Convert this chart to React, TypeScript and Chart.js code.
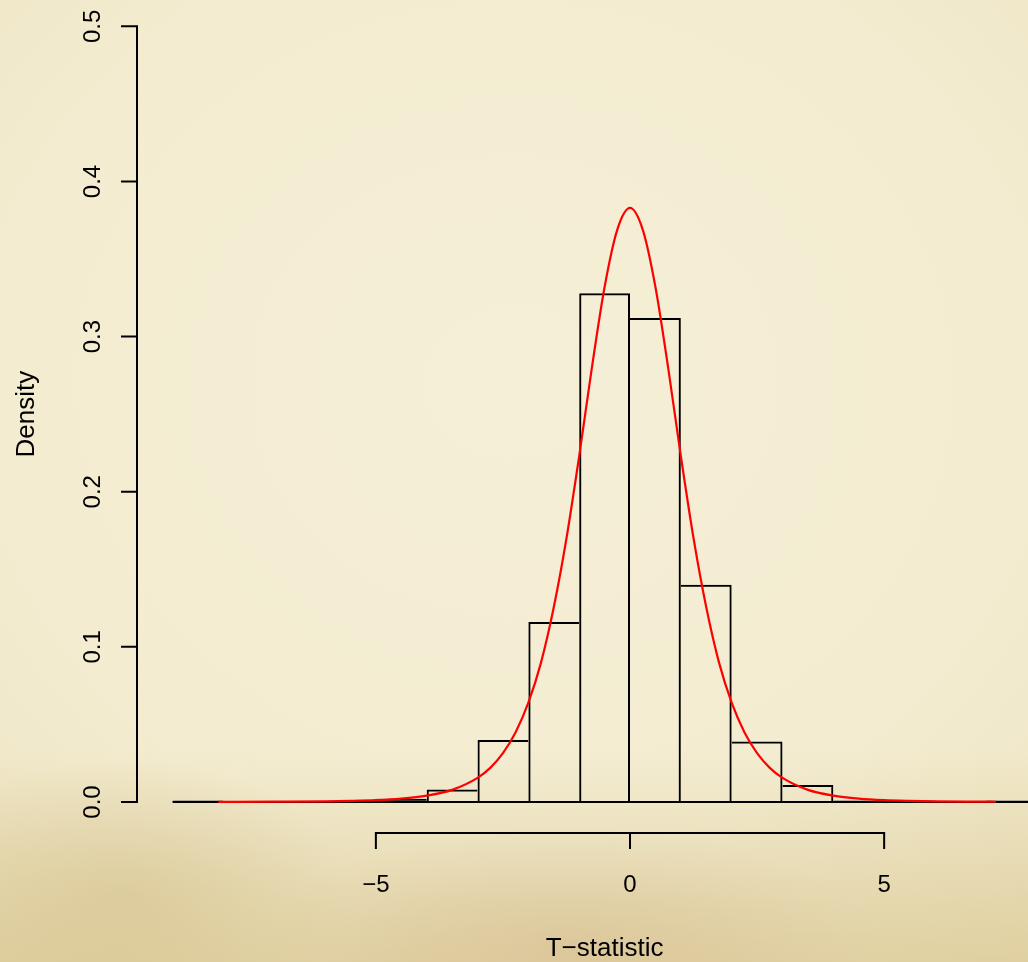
import { useEffect, useRef } from "react";
import { Chart, registerables } from "chart.js";

Chart.register(...registerables);

// Histogram bins (unit width) and their densities
const binStarts = [-9, -8, -7, -6, -5, -4, -3, -2, -1, 0, 1, 2, 3, 4, 5, 6, 7];
const binDensity = [
  0.001, 0, 0, 0, 0.002, 0.008, 0.04, 0.116, 0.328, 0.312, 0.14, 0.039, 0.011,
  0.001, 0.001, 0, 0.001,
];
const binWidth = 1;

// Fitted density curve
const curveX = [
  -8.1, -7, -6, -5.5, -5, -4.5, -4, -3.5, -3, -2.75, -2.5, -2.25, -2, -1.75, -1.5,
  -1.25, -1, -0.75, -0.5, -0.25, 0, 0.25, 0.5, 0.75, 1, 1.25, 1.5, 1.75, 2, 2.25,
  2.5, 2.75, 3, 3.5, 4, 4.5, 5, 5.5, 6, 7, 7.2,
];
const curveY = [
  0.0001, 0.0002, 0.0004, 0.0007, 0.0012, 0.0022, 0.0041, 0.0078, 0.0155, 0.022,
  0.0315, 0.045, 0.064, 0.09, 0.1255, 0.17, 0.223, 0.28, 0.332, 0.369, 0.383,
  0.369, 0.332, 0.28, 0.223, 0.17, 0.1255, 0.09, 0.064, 0.045, 0.0315, 0.022,
  0.0155, 0.0078, 0.0041, 0.0022, 0.0012, 0.0007, 0.0004, 0.0002, 0.00014,
];

// Axis ticks and labels
const xTicks = [-5, 0, 5];
const xTickLabels = ["\u22125", "0", "5"];
const yTicks = [0, 0.1, 0.2, 0.3, 0.4, 0.5];
const yTickLabels = ["0.0", "0.1", "0.2", "0.3", "0.4", "0.5"];
const xTitle = "T\u2212statistic";
const yTitle = "Density";

// Plot limits: bin range extended by 4% on each side, y from -0.02
const xLimFull = [-9.68, 8.68];
const xVisibleMax = 7.83;
const yLim = [-0.02, 0.517];

const FONT = '"Liberation Sans", Arial, Helvetica, sans-serif';
const LINE = 2;

// Base-graphics style axes: y axis spanning the tick range, detached x axis
const baseAxesPlugin = {
  id: "baseAxes",
  afterDraw(chart: any) {
    const { ctx, chartArea } = chart;
    const xs = chart.scales.x;
    const ys = chart.scales.y;
    const tick = 16;
    const axisX = chartArea.left - 1;
    const axisY = chartArea.bottom;

    ctx.save();
    ctx.strokeStyle = "#000";
    ctx.fillStyle = "#000";
    ctx.lineWidth = LINE;
    ctx.lineCap = "butt";

    // y axis
    ctx.beginPath();
    ctx.moveTo(axisX, ys.getPixelForValue(yTicks[0]) + 1);
    ctx.lineTo(axisX, ys.getPixelForValue(yTicks[yTicks.length - 1]) - 1);
    yTicks.forEach((v) => {
      const py = ys.getPixelForValue(v);
      ctx.moveTo(axisX, py);
      ctx.lineTo(axisX - tick, py);
    });
    ctx.stroke();

    // x axis
    ctx.beginPath();
    ctx.moveTo(xs.getPixelForValue(xTicks[0]) - 1, axisY);
    ctx.lineTo(xs.getPixelForValue(xTicks[xTicks.length - 1]) + 1, axisY);
    xTicks.forEach((v) => {
      const px = xs.getPixelForValue(v);
      ctx.moveTo(px, axisY);
      ctx.lineTo(px, axisY + tick);
    });
    ctx.stroke();

    ctx.font = `24px ${FONT}`;
    ctx.textAlign = "center";
    ctx.textBaseline = "alphabetic";

    yTicks.forEach((v, i) => {
      const py = ys.getPixelForValue(v);
      ctx.save();
      ctx.translate(axisX - 37, py);
      ctx.rotate(-Math.PI / 2);
      ctx.fillText(yTickLabels[i], 0, 0);
      ctx.restore();
    });

    xTicks.forEach((v, i) => {
      ctx.fillText(xTickLabels[i], xs.getPixelForValue(v), axisY + 59);
    });

    // axis titles
    ctx.font = `26px ${FONT}`;
    const xMid = xs.getPixelForValue((xLimFull[0] + xLimFull[1]) / 2);
    ctx.fillText(xTitle, xMid, axisY + 123);

    const yMid = (ys.getPixelForValue(-0.02) + ys.getPixelForValue(0.52)) / 2;
    ctx.save();
    ctx.translate(axisX - 103, yMid);
    ctx.rotate(-Math.PI / 2);
    ctx.fillText(yTitle, 0, 0);
    ctx.restore();

    ctx.restore();
  },
};

// Each shared bin edge is drawn once, by the taller of the two neighbouring bars
function edgeWidths(ctx: any) {
  const i = ctx.dataIndex;
  const h = binDensity[i] ?? 0;
  const hl = i > 0 ? binDensity[i - 1] : 0;
  const hr = i < binDensity.length - 1 ? binDensity[i + 1] : 0;
  return {
    top: LINE,
    left: h >= hl ? LINE : 0,
    right: h > hr ? LINE : 0,
    bottom: 0,
  };
}

// Bars only a few pixels tall render as a solid outline
function barFill(ctx: any) {
  const ys = ctx.chart.scales.y;
  const v = binDensity[ctx.dataIndex] ?? 0;
  if (!ys || v <= 0) return "rgba(0,0,0,0)";
  const px = ys.getPixelForValue(0) - ys.getPixelForValue(v);
  return px < 2 * LINE ? "#000" : "rgba(0,0,0,0)";
}

export default function App() {
  const canvasRef = useRef<HTMLCanvasElement | null>(null);

  useEffect(() => {
    if (!canvasRef.current) return;

    const histData = binStarts.map((s, i) => ({ x: s + binWidth / 2, y: binDensity[i] }));
    const curveData = curveX.map((x, i) => ({ x, y: curveY[i] }));
    const baseline = [
      { x: binStarts[0], y: 0 },
      { x: binStarts[binStarts.length - 1] + binWidth, y: 0 },
    ];

    const chart = new Chart(canvasRef.current, {
      type: "bar",
      data: {
        datasets: [
          {
            type: "line",
            label: "density",
            data: curveData,
            borderColor: "#ff0000",
            borderWidth: 2.2,
            pointRadius: 0,
            fill: false,
            cubicInterpolationMode: "monotone",
            order: 0,
          } as any,
          {
            type: "bar",
            label: "histogram",
            data: histData,
            backgroundColor: barFill,
            borderColor: "#000",
            borderWidth: edgeWidths,
            borderSkipped: "start",
            barPercentage: 1,
            categoryPercentage: 1,
            inflateAmount: 0,
            order: 1,
          } as any,
          {
            type: "line",
            label: "baseline",
            data: baseline,
            borderColor: "#000",
            borderWidth: LINE,
            pointRadius: 0,
            fill: false,
            order: 2,
          } as any,
        ],
      },
      options: {
        responsive: false,
        animation: false,
        devicePixelRatio: 1,
        layout: { padding: { left: 138, right: 0, top: 0, bottom: 129 } },
        plugins: {
          legend: { display: false },
          tooltip: { enabled: false },
        },
        scales: {
          x: {
            type: "linear",
            display: false,
            offset: false,
            min: xLimFull[0],
            max: xVisibleMax,
          },
          y: {
            type: "linear",
            display: false,
            min: yLim[0],
            max: yLim[1],
          },
        },
      } as any,
      plugins: [baseAxesPlugin],
    });

    return () => chart.destroy();
  }, []);

  return (
    <div
      style={{
        position: "absolute",
        left: 0,
        top: 0,
        width: 1028,
        height: 962,
        overflow: "hidden",
        background: [
          "radial-gradient(ellipse 22% 14% at 12% 93%, rgba(200,175,115,0.3), rgba(200,175,115,0) 100%)",
          "radial-gradient(ellipse 30% 12% at 55% 98%, rgba(205,170,125,0.3), rgba(205,170,125,0) 100%)",
          "linear-gradient(to bottom, rgba(210,185,120,0) 78%, rgba(205,180,115,0.42) 100%)",
          "radial-gradient(ellipse 85% 80% at 50% 40%, #f5efd8 0%, #f3ecd0 60%, #ece2bf 100%)",
        ].join(", "),
      }}
    >
      <canvas ref={canvasRef} width={1028} height={962} style={{ display: "block" }} />
    </div>
  );
}
